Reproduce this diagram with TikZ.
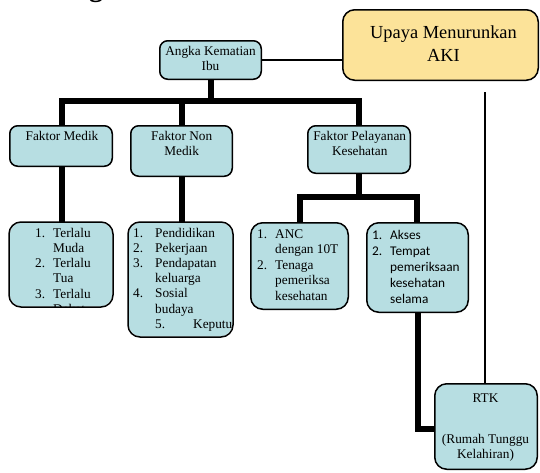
\documentclass[tikz,border=0pt]{standalone}
\usepackage{fontspec}
\setmainfont{Liberation Serif}
\newfontfamily\calfont{Carlito}
\usetikzlibrary{calc}
\definecolor{boxblue}{RGB}{183,222,226}
\definecolor{boxyellow}{RGB}{252,227,153}
\newcommand\mlines[2][c]{\begin{tabular}[t]{@{}#1@{}}#2\end{tabular}}
\begin{document}
\begin{tikzpicture}[x=1pt,y=-1pt,
  bx/.style={draw=black, line width=1.5pt, fill=boxblue, inner sep=0pt},
  bxedge/.style={draw=black, line width=1.5pt},
  txt/.style={inner sep=0pt, font=\fontsize{13.3}{15}\selectfont},
  heavy/.style={line width=6pt, line join=miter},
  light/.style={line width=1.2pt}]
\fill[white] (0,0) rectangle (540,472);
\useasboundingbox (0,0) rectangle (540,472);

% partial heading letter (cut by page top)
\node[inner sep=0pt, anchor=base, font=\bfseries\fontsize{28}{28}\selectfont] (hdr) at (96,-4) {g};

% boxes
\node[bx, rounded corners=8pt, minimum width=101.5pt, minimum height=38.5pt] (angka) at (210.5,60) {};
\node[bx, fill=boxyellow, rounded corners=12pt, minimum width=195.5pt, minimum height=70.5pt] (upaya) at (440.5,45) {};
\node[bx, rounded corners=8pt, minimum width=102.5pt, minimum height=40.5pt] (fm) at (61,146) {};
\node[bx, rounded corners=8pt, minimum width=101.5pt, minimum height=50.5pt] (fnm) at (181.5,151) {};
\node[bx, rounded corners=8pt, minimum width=102.5pt, minimum height=47.5pt] (fpk) at (359,149.5) {};
\node[bx, rounded corners=12pt, minimum width=97.5pt, minimum height=86.5pt] (l3) at (299.5,266) {};
\node[bx, rounded corners=12pt, minimum width=101.5pt, minimum height=89.5pt] (l4) at (417.5,267.5) {};
\node[bx, rounded corners=12pt, minimum width=102.5pt, minimum height=85.5pt] (rtk) at (486,426.5) {};

% list boxes whose text is cut by the box edge
\node[bx, draw=none, rounded corners=12pt, minimum width=102.5pt, minimum height=83.5pt] (l1) at (61,264.5) {};
\node[bx, draw=none, rounded corners=12pt, minimum width=103.5pt, minimum height=113.5pt] (l2) at (180.5,279.5) {};
\begin{scope}
  \clip[rounded corners=12pt] (l1.north west) rectangle (l1.south east);
  \node[txt, font=\fontsize{13.3}{15.3}\selectfont, anchor=base west] (l1t) at (35,237)
    {\mlines[p{18pt}@{}l]{1.&Terlalu\\&Muda\\2.&Terlalu\\&Tua\\3.&Terlalu\\&Dekat}};
\end{scope}
\begin{scope}
  \clip[rounded corners=12pt] (l2.north west) rectangle (l2.south east);
  \node[txt, font=\fontsize{13.3}{15.2}\selectfont, anchor=base west] (l2t) at (133,237)
    {\mlines[p{22pt}@{}l]{1.&Pendidikan\\2.&Pekerjaan\\3.&Pendapatan\\&keluarga\\4.&Sosial\\&budaya\\&5.\hspace{28pt}Keputusan}};
\end{scope}
\draw[bxedge, rounded corners=12pt] (l1.north west) rectangle (l1.south east);
\draw[bxedge, rounded corners=12pt] (l2.north west) rectangle (l2.south east);

% texts
\node[txt, anchor=base] (angkat) at (210.5,55) {\mlines{Angka Kematian\\Ibu}};
\node[inner sep=0pt, anchor=base, font=\fontsize{18.4}{23}\selectfont] (upayat) at (443.5,38) {\mlines{Upaya Menurunkan\\AKI}};
\node[txt, anchor=base] (fmt) at (62,140) {Faktor Medik};
\node[txt, anchor=base] (fnmt) at (181.7,140.5) {\mlines{Faktor Non\\Medik}};
\node[txt, anchor=base] (fpkt) at (359.7,140) {\mlines{Faktor Pelayanan\\Kesehatan}};
\node[txt, font=\fontsize{13.3}{15.6}\selectfont, anchor=base west] (l3t) at (257,238)
  {\mlines[p{18pt}@{}l]{1.&ANC\\&dengan 10T\\2.&Tenaga\\&pemeriksa\\&kesehatan}};
\node[txt, font=\calfont\fontsize{13.3}{16.2}\selectfont, anchor=base west] (l4t) at (372,239)
  {\mlines[p{18pt}@{}l]{1.&Akses\\2.&Tempat\\&pemeriksaan\\&kesehatan\\&selama}};
\node[txt, font=\fontsize{13.3}{15.3}\selectfont, anchor=base] (rtkt) at (485.5,402)
  {\mlines{RTK\\[25.7pt](Rumah Tunggu\\Kelahiran)}};

% connector helpers
\coordinate (bus1) at (0,101);
\coordinate (bus2) at (0,197);
\coordinate (bus3) at (0,429);
\coordinate (vtop) at (485,92);

% thin connectors
\draw[light] (angka.east) -- (angka.east -| upaya.west);
\draw[light] (vtop) -- (vtop |- rtk.north);

% heavy connectors
\draw[heavy] (angka.south) -- (angka.south |- bus1);
\draw[heavy] ([xshift=1pt]fm.north) -- ([xshift=1pt]fm.north |- bus1) -- (fpk.north |- bus1) -- (fpk.north);
\draw[heavy] ([xshift=0.5pt]fnm.north) -- ([xshift=0.5pt]fnm.north |- bus1);
\draw[heavy] ([xshift=1pt]fm.south) -- ([xshift=1pt]fm.south |- l1.north);
\draw[heavy] ([xshift=0.5pt]fnm.south) -- ([xshift=0.5pt]fnm.south |- l2.north);
\draw[heavy] (fpk.south) -- (fpk.south |- bus2);
\draw[heavy] ([xshift=0.5pt]l3.north) -- ([xshift=0.5pt]l3.north |- bus2) -- ([xshift=-1pt]l4.north |- bus2) -- ([xshift=-1pt]l4.north);
\draw[heavy] (l4.south) -- (l4.south |- bus3) -- (bus3 -| rtk.west);
\end{tikzpicture}
\end{document}
